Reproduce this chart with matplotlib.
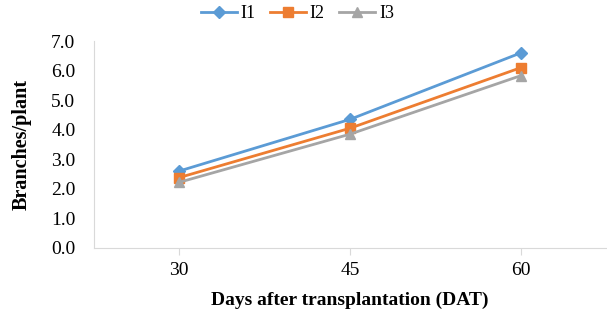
import matplotlib.pyplot as plt

plt.rcParams['font.family'] = ['Liberation Serif', 'DejaVu Serif']

days = ['30', '45', '60']
i1 = [2.6, 4.35, 6.6]
i2 = [2.38, 4.05, 6.1]
i3 = [2.22, 3.85, 5.83]

fig = plt.figure(figsize=(6.07, 3.22), dpi=100)
ax = fig.add_axes([93.5 / 607, 74 / 322, 513 / 607, 207 / 322])

x = range(len(days))
ax.plot(x, i1, color='#5B9BD5', marker='D', markersize=6.5, lw=2, label='I1')
ax.plot(x, i2, color='#ED7D31', marker='s', markersize=7.5, lw=2, label='I2')
ax.plot(x, i3, color='#A5A5A5', marker='^', markersize=7.5, lw=2, label='I3')

ax.set_xlim(-0.5, 2.5)
ax.set_ylim(0, 7)
ax.set_xticks(list(x))
ax.set_xticklabels(days)
ax.set_yticks([0, 1, 2, 3, 4, 5, 6, 7])
ax.set_yticklabels(['%.1f' % v for v in range(8)])
ax.tick_params(axis='y', length=0, labelsize=14, pad=13)
ax.tick_params(axis='x', length=5, color='#D9D9D9', labelsize=14, pad=5)

for s in ['top', 'right']:
    ax.spines[s].set_visible(False)
ax.spines['left'].set_color('#D9D9D9')
ax.spines['bottom'].set_color('#D9D9D9')

ax.set_ylabel('Branches/plant', fontsize=14.5, fontweight='bold', labelpad=14)
ax.set_xlabel('Days after transplantation (DAT)', fontsize=14, fontweight='bold', labelpad=9)

fig.legend(loc='upper center', bbox_to_anchor=(0.49, 1.035), ncol=3, frameon=False,
           fontsize=13, handlelength=2, columnspacing=0.8, handletextpad=0.2)

fig.savefig('out.png', dpi=100)
